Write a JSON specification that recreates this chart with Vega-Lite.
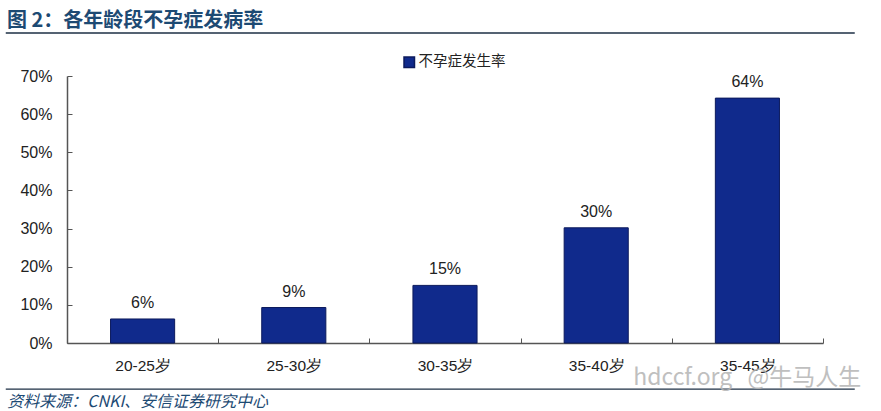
{
"$schema":"https://vega.github.io/schema/vega-lite/v6.json",
"width":756,"height":267,
"autosize":{"type":"none"},
"padding":{"left":67,"top":76,"right":58,"bottom":68},
"background":"white",
"title":{"text":"图 2：各年龄段不孕症发病率","anchor":"start","frame":"group","dx":-60,"offset":1,"font":"Noto Sans CJK SC","fontSize":20,"fontWeight":"bold","color":"#1d4a73"},
"config":{"view":{"stroke":null},"font":"Liberation Sans"},
"datasets":{
"bars":[
{"age":"20-25岁","rate":0.063,"label":"6%","series":"不孕症发生率"},
{"age":"25-30岁","rate":0.093,"label":"9%","series":"不孕症发生率"},
{"age":"30-35岁","rate":0.151,"label":"15%","series":"不孕症发生率"},
{"age":"35-40岁","rate":0.302,"label":"30%","series":"不孕症发生率"},
{"age":"35-45岁","rate":0.642,"label":"64%","series":"不孕症发生率"}],
"lines":[{"x1":-0.081,"x2":1.042,"y":0.8127},{"x1":-0.081,"x2":1.042,"y":-0.121}],
"source":[{"x":-0.079,"y":-0.155,"t":"资料来源：CNKI、安信证券研究中心"}],
"wm":[{"x":0.749,"y":-0.092,"t":"hdccf.org"},{"x":0.9,"y":-0.092,"t":"@牛马人生"}]
},
"layer":[
{"data":{"name":"bars"},
"layer":[
{"mark":{"type":"bar","stroke":"#0c1a5c","strokeWidth":1,"width":{"band":0.424}},
"encoding":{
"x":{"field":"age","type":"nominal","sort":null,"title":null,"scale":{"paddingInner":0,"paddingOuter":0},
"axis":{"labelAngle":0,"labelFontSize":15.5,"labelColor":"#222","labelPadding":20,"ticks":true,"tickBand":"extent","tickSize":-5,"tickWidth":1,"tickColor":"#555","domainColor":"#555","domainWidth":1.5,"labelFont":"Liberation Sans"}},
"y":{"field":"rate","type":"quantitative","title":null,"scale":{"domain":[0,0.7],"nice":false},
"axis":{"values":[0,0.1,0.2,0.3,0.4,0.5,0.6,0.7],"format":".0%","grid":false,"labelOverlap":false,"labelFontSize":16,"labelColor":"#222","labelPadding":20,"ticks":true,"tickSize":-5,"tickWidth":1,"tickColor":"#555","domainColor":"#555","domainWidth":1.5}},
"color":{"field":"series","type":"nominal","title":null,"scale":{"range":["#102a8c"]},
"legend":{"orient":"none","legendX":335,"legendY":-21,"symbolType":"square","symbolSize":110,"symbolStrokeColor":"#0c1a5c","labelFontSize":14.5,"labelColor":"#222","labelOffset":2,"labelFont":"Noto Sans CJK SC"}}
}},
{"mark":{"type":"text","dy":-16,"fontSize":16,"color":"#222"},
"encoding":{
"x":{"field":"age","type":"nominal","sort":null,"title":null,
"axis":{"labelAngle":0,"labelFontSize":15.5,"labelColor":"#222","labelPadding":20,"ticks":true,"tickBand":"extent","tickSize":-5,"tickWidth":1,"tickColor":"#555","domainColor":"#555","domainWidth":1.5,"labelFont":"Liberation Sans"}},
"y":{"field":"rate","type":"quantitative","title":null,
"axis":{"values":[0,0.1,0.2,0.3,0.4,0.5,0.6,0.7],"format":".0%","grid":false,"labelOverlap":false,"labelFontSize":16,"labelColor":"#222","labelPadding":20,"ticks":true,"tickSize":-5,"tickWidth":1,"tickColor":"#555","domainColor":"#555","domainWidth":1.5}},
"text":{"field":"label"}
}}
]},
{"data":{"name":"lines"},
"mark":{"type":"rule","color":"#1c2f45","strokeWidth":1.3,"clip":false},
"encoding":{
"x":{"field":"x1","type":"quantitative","scale":{"domain":[0,1],"nice":false,"zero":false},"axis":null},
"x2":{"field":"x2"},
"y":{"field":"y","type":"quantitative","title":null,
"axis":{"values":[0,0.1,0.2,0.3,0.4,0.5,0.6,0.7],"format":".0%","grid":false,"labelOverlap":false,"labelFontSize":16,"labelColor":"#222","labelPadding":20,"ticks":true,"tickSize":-5,"tickWidth":1,"tickColor":"#555","domainColor":"#555","domainWidth":1.5}}
}},
{"data":{"name":"source"},
"mark":{"type":"text","align":"left","baseline":"middle","font":"Noto Sans CJK SC","fontSize":16,"fontStyle":"italic","color":"#1d4a73","clip":false},
"encoding":{
"x":{"field":"x","type":"quantitative","scale":{"domain":[0,1],"nice":false,"zero":false},"axis":null},
"y":{"field":"y","type":"quantitative","title":null,
"axis":{"values":[0,0.1,0.2,0.3,0.4,0.5,0.6,0.7],"format":".0%","grid":false,"labelOverlap":false,"labelFontSize":16,"labelColor":"#222","labelPadding":20,"ticks":true,"tickSize":-5,"tickWidth":1,"tickColor":"#555","domainColor":"#555","domainWidth":1.5}},
"text":{"field":"t"}
}},
{"data":{"name":"wm"},
"mark":{"type":"text","align":"left","baseline":"middle","font":"Noto Sans CJK SC","fontSize":23,"color":"#b5b5b5","opacity":0.85,"clip":false},
"encoding":{
"x":{"field":"x","type":"quantitative","scale":{"domain":[0,1],"nice":false,"zero":false},"axis":null},
"y":{"field":"y","type":"quantitative","title":null,
"axis":{"values":[0,0.1,0.2,0.3,0.4,0.5,0.6,0.7],"format":".0%","grid":false,"labelOverlap":false,"labelFontSize":16,"labelColor":"#222","labelPadding":20,"ticks":true,"tickSize":-5,"tickWidth":1,"tickColor":"#555","domainColor":"#555","domainWidth":1.5}},
"text":{"field":"t"}
}}
],
"resolve":{"scale":{"x":"independent"}}
}
